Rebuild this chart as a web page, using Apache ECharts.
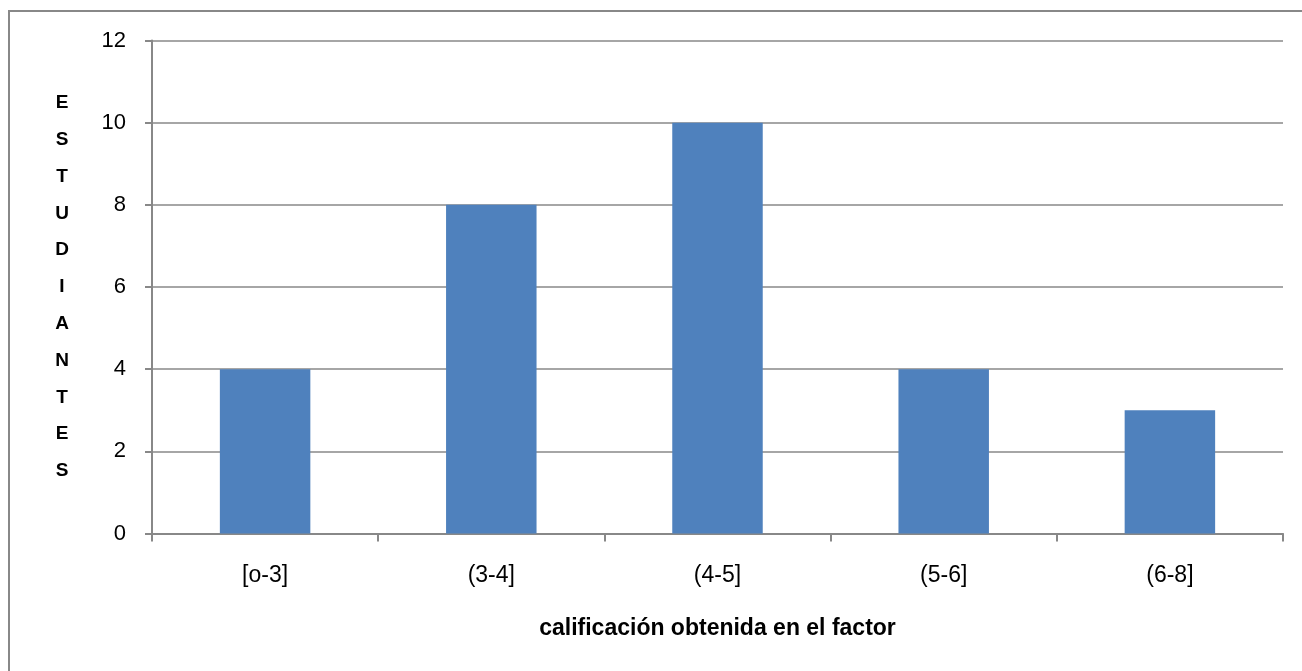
<!DOCTYPE html>
<html><head><meta charset="utf-8">
<script src="https://cdn.jsdelivr.net/npm/echarts@6/dist/echarts.min.js"></script>
<style>html,body{margin:0;padding:0;background:#fff}#c{width:1302px;height:671px}</style>
</head><body><div id="c"></div>
<script>
const categories = ['[o-3]', '(3-4]', '(4-5]', '(5-6]', '(6-8]'];
const values = [4, 8, 10, 4, 3];
const yTitle = 'ESTUDIANTES';
const xTitle = 'calificación obtenida en el factor';
const FONT = '"Liberation Sans", Arial, sans-serif';
const chart = echarts.init(document.getElementById('c'), null, {renderer: 'canvas'});
chart.setOption({
  animation: false,
  backgroundColor: '#fff',
  graphic: [{type: 'rect', shape: {x: 9, y: 11, width: 1320, height: 700}, style: {fill: 'none', stroke: '#888', lineWidth: 2}, z: 100}],
  grid: {left: 152, right: 19, top: 40.5, bottom: 137.5, containLabel: false},
  xAxis: {
    type: 'category', data: categories,
    axisLine: {lineStyle: {color: '#888', width: 2}},
    axisTick: {show: true, length: 8, lineStyle: {color: '#888', width: 2}},
    axisLabel: {color: '#000', fontSize: 23, fontFamily: FONT, margin: 31},
    name: xTitle, nameLocation: 'middle', nameGap: 84,
    nameTextStyle: {color: '#000', fontSize: 23, fontWeight: 'bold', fontFamily: FONT}
  },
  yAxis: {
    type: 'value', min: 0, max: 12, interval: 2,
    axisLine: {show: true, lineStyle: {color: '#888', width: 2}},
    axisTick: {show: true, length: 7, lineStyle: {color: '#888', width: 2}},
    axisLabel: {color: '#000', fontSize: 22, fontFamily: FONT, margin: 26},
    splitLine: {lineStyle: {color: '#888', width: 1.5}},
    name: yTitle.split('').join('\n'), nameLocation: 'middle', nameRotate: 0, nameGap: 90,
    nameTextStyle: {color: '#000', fontSize: 19, fontWeight: 'bold', fontFamily: FONT, lineHeight: 36.8, align: 'center'}
  },
  series: [{
    type: 'bar', data: values, barWidth: '40%',
    itemStyle: {color: '#4f81bd'}
  }]
});
</script></body></html>
